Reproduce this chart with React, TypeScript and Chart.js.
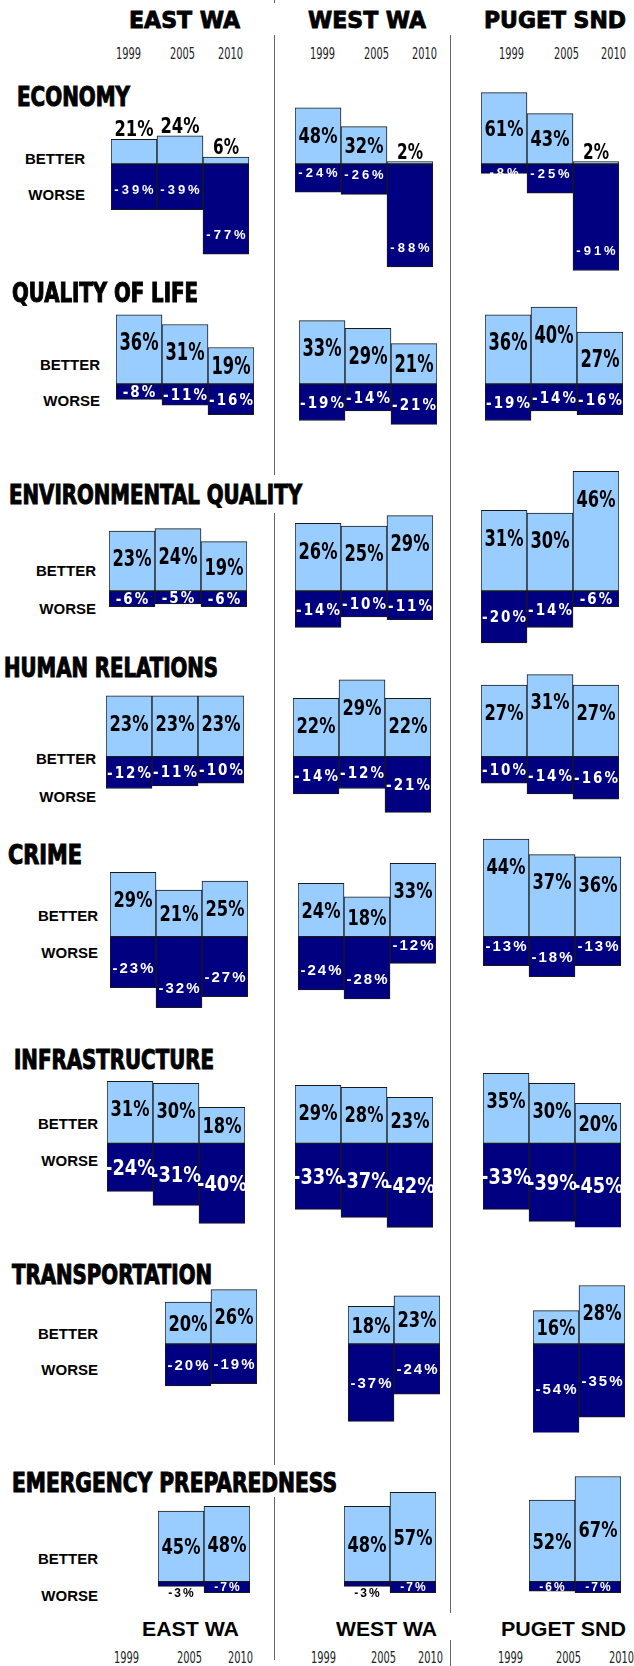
import React, { useEffect, useRef } from 'react';
import { Chart, registerables } from 'chart.js';
Chart.register(...registerables);

// ---------- DATA ----------
const YEARS3 = ['1999', '2005', '2010'];
const YEARS2 = ['2005', '2010'];
const REGIONS = ['EAST WA', 'WEST WA', 'PUGET SND'];
const TOPICS = ['ECONOMY', 'QUALITY OF LIFE', 'ENVIRONMENTAL QUALITY', 'HUMAN RELATIONS', 'CRIME', 'INFRASTRUCTURE', 'TRANSPORTATION', 'EMERGENCY PREPAREDNESS'];
const SIDE_LABELS = ['BETTER', 'WORSE'];

// [East WA, West WA, Puget Sound], each by year
const economyBetter = [[21, 24, 6], [48, 32, 2], [61, 43, 2]];
const economyWorse = [[-39, -39, -77], [-24, -26, -88], [-8, -25, -91]];
const qualityBetter = [[36, 31, 19], [33, 29, 21], [36, 40, 27]];
const qualityWorse = [[-8, -11, -16], [-19, -14, -21], [-19, -14, -16]];
const environmentBetter = [[23, 24, 19], [26, 25, 29], [31, 30, 46]];
const environmentWorse = [[-6, -5, -6], [-14, -10, -11], [-20, -14, -6]];
const humanBetter = [[23, 23, 23], [22, 29, 22], [27, 31, 27]];
const humanWorse = [[-12, -11, -10], [-14, -12, -21], [-10, -14, -16]];
const crimeBetter = [[29, 21, 25], [24, 18, 33], [44, 37, 36]];
const crimeWorse = [[-23, -32, -27], [-24, -28, -12], [-13, -18, -13]];
const infraBetter = [[31, 30, 18], [29, 28, 23], [35, 30, 20]];
const infraWorse = [[-24, -31, -40], [-33, -37, -42], [-33, -39, -45]];
const transportBetter = [[20, 26], [18, 23], [16, 28]];
const transportWorse = [[-20, -19], [-37, -24], [-54, -35]];
const emergencyBetter = [[45, 48], [48, 57], [52, 67]];
const emergencyWorse = [[-3, -7], [-3, -7], [-6, -7]];

const BETTER_BY_TOPIC = [economyBetter, qualityBetter, environmentBetter, humanBetter, crimeBetter, infraBetter, transportBetter, emergencyBetter];
const WORSE_BY_TOPIC = [economyWorse, qualityWorse, environmentWorse, humanWorse, crimeWorse, infraWorse, transportWorse, emergencyWorse];
const YEARS_BY_TOPIC = [YEARS3, YEARS3, YEARS3, YEARS3, YEARS3, YEARS3, YEARS2, YEARS2];

// ---------- STYLE / LAYOUT ----------
const LIGHT = '#99CCFF';
const NAVY = '#000080';
const EDGE = '#1a1a1a';
const NARROW = '"Liberation Sans Narrow", "Arial Narrow", "DejaVu Sans Condensed", sans-serif';
const SANS = '"Liberation Sans", Arial, "DejaVu Sans", sans-serif';
const BAR_W = 46;

const ROWS = [
  { base: 164, scale: 1.17, xs: [111, 295, 481], clip: [null, null, null], posMode: 'middle', negMode: 'bottom', posSize: 21, neg: { size: 13, fam: SANS, sp: 3 }, title: { l: 17, r: 130, cy: 96.5 }, side: { r: 85, b: 158.5, w: 194.5 } },
  { base: 384, scale: 1.92, xs: [115.6, 299.2, 485], clip: [null, null, null], posMode: 'top', negMode: 'middle', posSize: 24, neg: { size: 15, fam: NARROW, sp: 2 }, title: { l: 12, r: 198, cy: 293 }, side: { r: 100, b: 364, w: 400 } },
  { base: 591, scale: 2.6, xs: [108.6, 294.7, 480.9], clip: [null, null, null], posMode: 'top', negMode: 'middle', posSize: 23, neg: { size: 15, fam: NARROW, sp: 2 }, title: { l: 9, r: 302, cy: 495 }, side: { r: 96, b: 570, w: 608 } },
  { base: 756.7, scale: 2.65, xs: [105.8, 293.1, 480.9], clip: [null, null, null], posMode: 'top', negMode: 'middle', posSize: 22, neg: { size: 15, fam: NARROW, sp: 2 }, title: { l: 4, r: 218, cy: 668 }, side: { r: 96, b: 758, w: 796 } },
  { base: 936.7, scale: 2.22, xs: [109.8, 297.6, 482.9], clip: [null, null, null], posMode: 'top', negMode: 'bottom', posSize: 22, neg: { size: 15, fam: SANS, sp: 2 }, title: { l: 8, r: 82, cy: 854.5 }, side: { r: 98, b: 915, w: 952 } },
  { base: 1143.3, scale: 2.0, xs: [107.4, 295.1, 482.9], clip: [null, null, -42], posMode: 'top', negMode: 'middle', posSize: 21, neg: { size: 21, fam: NARROW, sp: 0 }, title: { l: 14, r: 214, cy: 1060 }, side: { r: 98, b: 1123, w: 1160 } },
  { base: 1344, scale: 2.09, xs: [164.5, 348.2, 532.7], clip: [null, null, -42.4], posMode: 'top', negMode: 'middle', posSize: 21, neg: { size: 15, fam: SANS, sp: 2 }, title: { l: 12, r: 212, cy: 1275 }, side: { r: 98, b: 1333, w: 1369 } },
  { base: 1581.7, scale: 1.57, xs: [158.4, 343.7, 529.4], clip: [null, null, null], posMode: 'middle', negMode: 'middle', posSize: 22, neg: { size: 12, fam: SANS, sp: 2 }, title: { l: 12, r: 337, cy: 1483 }, side: { r: 98, b: 1558, w: 1595 } },
];

const HEAD_TOP = [{ l: 129, r: 240, cy: 20 }, { l: 308, r: 426, cy: 20 }, { l: 484, r: 626, cy: 20 }];
const HEAD_BOTTOM = [{ l: 142, r: 239, cy: 1629 }, { l: 336, r: 437, cy: 1629 }, { l: 501, r: 626, cy: 1629 }];
const YEAR_TOP_X = [[128, 182, 230], [322, 376, 424], [511, 566, 613]];
const YEAR_BOTTOM_X = [[126, 189, 240], [323, 383, 430], [510, 568, 621]];
const DIVIDERS = [
  { x: 274, segs: [[0, 3], [35, 475], [513, 1465], [1497, 1660]] },
  { x: 450, segs: [[35, 1613], [1640, 1666]] },
];

// ---------- helpers ----------
let measureCtx: CanvasRenderingContext2D | null = null;
function measure(text: string, font: string) {
  if (!measureCtx) measureCtx = document.createElement('canvas').getContext('2d');
  measureCtx!.font = font;
  return measureCtx!.measureText(text).width;
}

function drawFit(ctx: any, text: string, x: number, y: number, maxW: number) {
  const w = ctx.measureText(text).width;
  const sx = w > maxW ? maxW / w : 1;
  ctx.save();
  ctx.translate(x, y);
  ctx.scale(sx, 1);
  ctx.fillText(text, 0, 0);
  ctx.restore();
}

const labelPlugin = {
  id: 'barLabels',
  afterDatasetsDraw(chart: any, _args: any, opts: any) {
    const ctx = chart.ctx;
    const area = chart.chartArea;
    const m0 = chart.getDatasetMeta(0);
    const m1 = chart.getDatasetMeta(1);
    const zero = chart.scales.y.getPixelForValue(0);
    ctx.save();
    ctx.textAlign = 'center';
    ctx.textBaseline = 'alphabetic';
    // better labels
    m0.data.forEach((el: any, i: number) => {
      const v = chart.data.datasets[0].data[i];
      const text = v + '%';
      const top = el.y;
      const h = zero - top;
      ctx.font = `bold ${opts.posSize}px ${NARROW}`;
      ctx.fillStyle = '#000';
      const cap = opts.posSize * 0.716;
      let y;
      if (h < 30) y = top - 3;
      else {
        const c = opts.posMode === 'middle' ? top + h / 2 : top + Math.min(h / 2, 27);
        y = c + cap / 2;
      }
      drawFit(ctx, text, el.x, y, text.length * 13);
    });
    // worse labels
    m1.data.forEach((el: any, i: number) => {
      const v = chart.data.datasets[1].data[i];
      const text = v + '%';
      const bottom = Math.min(el.y, area.bottom);
      const h = bottom - zero;
      const n = opts.neg;
      ctx.font = `bold ${n.size}px ${n.fam}`;
      try { ctx.letterSpacing = n.sp + 'px'; } catch (e) {}
      const cap = n.size * 0.716;
      let c;
      if (h < 7) {
        ctx.fillStyle = '#000';
        c = bottom + 6;
      } else {
        ctx.fillStyle = '#fff';
        c = opts.negMode === 'bottom' ? Math.max(zero + 8, bottom - 20) : zero + h / 2;
      }
      drawFit(ctx, text, el.x + n.sp / 2, c + cap / 2, BAR_W + 4);
    });
    ctx.restore();
  },
};

function Panel({ row, col }: { row: number; col: number }) {
  const ref = useRef<HTMLCanvasElement>(null);
  const R = ROWS[row];
  const labels = YEARS_BY_TOPIC[row];
  const better = BETTER_BY_TOPIC[row][col];
  const worse = WORSE_BY_TOPIC[row][col];
  const n = labels.length;
  const padX = 14;
  const yMax = Math.max(...better) + 2;
  const clipMin = R.clip[col];
  const yMin = clipMin != null ? clipMin : Math.min(...worse) - 2;
  const topPx = R.base - yMax * R.scale;
  const botPx = R.base - yMin * R.scale;
  const canvasTop = Math.floor(topPx - 30);
  const canvasH = Math.ceil(botPx + 22) - canvasTop;
  const padTop = topPx - canvasTop;
  const padBottom = canvasTop + canvasH - botPx;
  const left = R.xs[col] - padX;
  const width = n * BAR_W + padX * 2;

  useEffect(() => {
    const chart = new Chart(ref.current!, {
      type: 'bar',
      data: {
        labels,
        datasets: [
          { label: SIDE_LABELS[0], data: better, backgroundColor: LIGHT, borderColor: EDGE, borderWidth: 1, borderSkipped: false, barPercentage: 1, categoryPercentage: 1, clip: 0 } as any,
          { label: SIDE_LABELS[1], data: worse, backgroundColor: NAVY, borderColor: EDGE, borderWidth: 1, borderSkipped: false, barPercentage: 1, categoryPercentage: 1, clip: 0 } as any,
        ],
      },
      options: {
        animation: false,
        responsive: false,
        maintainAspectRatio: false,
        devicePixelRatio: 1,
        events: [],
        layout: { padding: { left: padX, right: padX, top: padTop, bottom: padBottom } },
        scales: {
          x: { display: false, stacked: true },
          y: { display: false, stacked: true, min: yMin, max: yMax },
        },
        plugins: {
          legend: { display: false },
          tooltip: { enabled: false },
          barLabels: { posSize: R.posSize, posMode: R.posMode, negMode: R.negMode, neg: R.neg },
        } as any,
      },
      plugins: [labelPlugin as any],
    });
    return () => chart.destroy();
  }, [row, col]);

  return (
    <canvas
      ref={ref}
      width={width}
      height={canvasH}
      style={{ position: 'absolute', left, top: canvasTop, width, height: canvasH }}
    />
  );
}

function FitText({ text, l, r, cy, size, family, weight, stroke, color }: any) {
  const font = `${weight} ${size}px ${family}`;
  const w = measure(text, font);
  const k = (r - l) / w;
  return (
    <div
      style={{
        position: 'absolute',
        left: l,
        top: cy - 0.49 * size,
        fontSize: size,
        lineHeight: size + 'px',
        fontFamily: family,
        fontWeight: weight,
        whiteSpace: 'nowrap',
        color: color || '#000',
        transform: `scaleX(${k})`,
        transformOrigin: '0 50%',
        WebkitTextStroke: stroke || undefined,
      }}
    >
      {text}
    </div>
  );
}

export default function App() {
  return (
    <div style={{ position: 'relative', width: 634, height: 1666, background: '#fff', overflow: 'hidden' }}>
      <style>{'body{margin:0}'}</style>
      {DIVIDERS.map((d, i) =>
        d.segs.map((s, j) => (
          <div key={`d${i}-${j}`} style={{ position: 'absolute', left: d.x, top: s[0], width: 1.2, height: s[1] - s[0], background: '#666' }} />
        ))
      )}
      {REGIONS.map((name, i) => (
        <FitText key={`ht${i}`} text={name} {...HEAD_TOP[i]} size={23} family={NARROW} weight={700} stroke="0.8px #000" />
      ))}
      {REGIONS.map((name, i) => (
        <FitText key={`hb${i}`} text={name} {...HEAD_BOTTOM[i]} size={20} family={SANS} weight={700} />
      ))}
      {YEAR_TOP_X.map((xs, i) =>
        xs.map((x, j) => (
          <FitText key={`yt${i}-${j}`} text={YEARS3[j]} l={x - 12.5} r={x + 12.5} cy={54} size={15} family={NARROW} weight={400} color="#222" />
        ))
      )}
      {YEAR_BOTTOM_X.map((xs, i) =>
        xs.map((x, j) => (
          <FitText key={`yb${i}-${j}`} text={YEARS3[j]} l={x - 12.5} r={x + 12.5} cy={1658} size={15} family={NARROW} weight={400} color="#222" />
        ))
      )}
      {ROWS.map((R, i) => (
        <React.Fragment key={`row${i}`}>
          <FitText text={TOPICS[i]} l={R.title.l} r={R.title.r} cy={R.title.cy} size={26} family={NARROW} weight={700} stroke="1px #000" />
          <div style={{ position: 'absolute', left: R.side.r - 100, width: 100, top: R.side.b - 7.5, textAlign: 'right', font: `bold 15px ${SANS}`, lineHeight: '15px' }}>{SIDE_LABELS[0]}</div>
          <div style={{ position: 'absolute', left: R.side.r - 100, width: 100, top: R.side.w - 7.5, textAlign: 'right', font: `bold 15px ${SANS}`, lineHeight: '15px' }}>{SIDE_LABELS[1]}</div>
          {[0, 1, 2].map((c) => (
            <Panel key={`p${i}-${c}`} row={i} col={c} />
          ))}
        </React.Fragment>
      ))}
    </div>
  );
}
